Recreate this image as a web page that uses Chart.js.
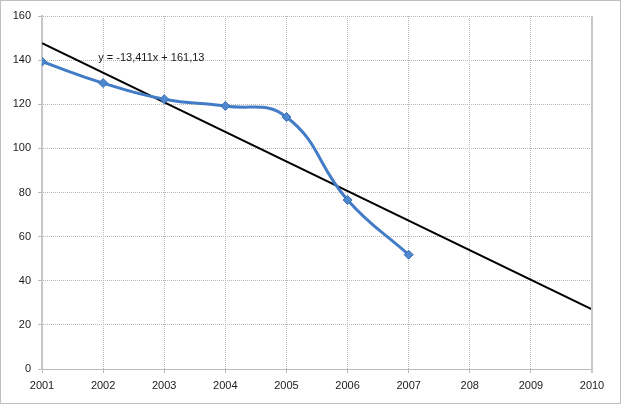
<!DOCTYPE html>
<html>
<head>
<meta charset="utf-8">
<script src="https://cdn.jsdelivr.net/npm/chart.js@4"></script>
<style>
  html, body { margin: 0; padding: 0; background: #fff; }
  #wrap { width: 621px; height: 404px; position: relative; }
</style>
</head>
<body>
<div id="wrap"><canvas id="chart"></canvas></div>
<script>
// Axis labels (the original chart has "208" instead of 2008)
const years = [2001, 2002, 2003, 2004, 2005, 2006, 2007, 2008, 2009, 2010];
const yearLabels = ['2001', '2002', '2003', '2004', '2005', '2006', '2007', '208', '2009', '2010'];

// Measured series
const seriesYears = [2001, 2002, 2003, 2004, 2005, 2006, 2007];
const seriesValues = [139.3, 129.6, 122.3, 119.2, 114.2, 76.6, 51.8];

// Linear trend line endpoints
const trendYears = [2001, 2010];
const trendValues = [147.7, 27.0];
const trendLabel = 'y = -13,411x + 161,13';

const FONT = '"Liberation Sans", Arial, sans-serif';
const GRID = '#b8b8b8';

// Dotted frame around the whole chart, solid right edge of the plot, equation text
const framePlugin = {
    id: 'frame',
    afterDraw(chart) {
        const { ctx, chartArea, scales } = chart;
        ctx.save();
        ctx.strokeStyle = '#c8c8c8';
        ctx.lineWidth = 2;
        ctx.beginPath();
        ctx.moveTo(chartArea.right, chartArea.top);
        ctx.lineTo(chartArea.right, chartArea.bottom + 4);
        ctx.stroke();

        ctx.strokeStyle = '#7f7f7f';
        ctx.lineWidth = 1;
        ctx.setLineDash([1, 1]);
        ctx.strokeRect(0.5, 0.5, chart.width - 1, chart.height - 1);
        ctx.setLineDash([]);

        ctx.fillStyle = '#1a1a1a';
        ctx.font = '11px ' + FONT;
        ctx.textBaseline = 'middle';
        ctx.fillText(trendLabel, scales.x.getPixelForValue(2001.92), scales.y.getPixelForValue(141.2));
        ctx.restore();
    }
};

new Chart(document.getElementById('chart'), {
    type: 'line',
    data: {
        datasets: [
            {
                label: 'Series',
                data: seriesYears.map((x, i) => ({ x: x, y: seriesValues[i] })),
                borderColor: '#437cc6',
                backgroundColor: '#437cc6',
                borderWidth: 3,
                tension: 0.45,
                pointStyle: 'rectRot',
                pointRadius: 4.5,
                pointBorderWidth: 1,
                pointBorderColor: '#3a6fb3',
                pointBackgroundColor: '#4f88cf',
                order: 1
            },
            {
                label: 'Trend',
                data: trendYears.map((x, i) => ({ x: x, y: trendValues[i] })),
                borderColor: '#000000',
                borderWidth: 2,
                pointRadius: 0,
                tension: 0,
                order: 2
            }
        ]
    },
    options: {
        responsive: true,
        maintainAspectRatio: false,
        animation: false,
        layout: { padding: { left: 0, top: 16, right: 29, bottom: 0 } },
        plugins: {
            legend: { display: false },
            tooltip: { enabled: false }
        },
        scales: {
            x: {
                type: 'linear',
                min: years[0],
                max: years[years.length - 1],
                afterBuildTicks: scale => {
                    scale.ticks = years.map(v => ({ value: v }));
                },
                afterFit: scale => { scale.height = 35; },
                grid: {
                    color: GRID,
                    lineWidth: 1,
                    tickLength: 4,
                    tickColor: GRID
                },
                border: { display: true, color: GRID, width: 1, dash: [1, 1] },
                ticks: {
                    color: '#1a1a1a',
                    font: { family: FONT, size: 11 },
                    padding: 6,
                    maxRotation: 0,
                    autoSkip: false,
                    callback: value => yearLabels[years.indexOf(value)]
                }
            },
            y: {
                min: 0,
                max: 160,
                afterFit: scale => { scale.width = 42; },
                grid: {
                    color: GRID,
                    lineWidth: 1,
                    tickLength: 4,
                    tickColor: GRID
                },
                border: { display: true, color: '#c8c8c8', width: 2, dash: [1, 1] },
                ticks: {
                    stepSize: 20,
                    color: '#1a1a1a',
                    font: { family: FONT, size: 11 },
                    padding: 7
                }
            }
        }
    },
    plugins: [framePlugin]
});
</script>
</body>
</html>
